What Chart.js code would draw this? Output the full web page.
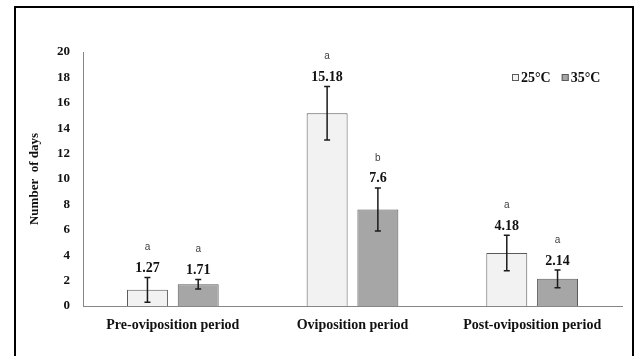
<!DOCTYPE html>
<html>
<head>
<meta charset="utf-8">
<script src="https://cdn.jsdelivr.net/npm/chart.js@4/dist/chart.umd.min.js"></script>
<style>
  html, body { margin: 0; padding: 0; background: #fff; }
  #wrap { width: 635px; height: 356px; position: relative; }
</style>
</head>
<body>
<div id="wrap"><canvas id="c" width="635" height="356"></canvas></div>
<script>
// Duration of the reproductive periods at two temperatures
const categories = ['Pre-oviposition period', 'Oviposition period', 'Post-oviposition period'];
const seriesNames = ['25°C', '35°C'];
const days25 = [1.27, 15.18, 4.18];
const days35 = [1.71, 7.6, 2.14];
const err25 = [0.98, 2.1, 1.4];
const err35 = [0.38, 1.7, 0.7];
const letters25 = ['a', 'a', 'a'];
const letters35 = ['a', 'b', 'a'];
const yTicks = [0, 2, 4, 6, 8, 10, 12, 14, 16, 18, 20];

const serif = "'Liberation Serif', 'Times New Roman', serif";
const sans = "'Liberation Sans', Arial, sans-serif";

const errors = [err25, err35];
const letters = [letters25, letters35];

// Error bars, value labels and significance letters above each bar
const annotate = {
  id: 'annotate',
  afterDatasetsDraw(chart) {
    const ctx = chart.ctx;
    const y = chart.scales.y;
    chart.data.datasets.forEach((ds, di) => {
      const meta = chart.getDatasetMeta(di);
      meta.data.forEach((bar, i) => {
        const v = ds.data[i];
        const e = errors[di][i];
        const x = bar.x;
        const yTop = y.getPixelForValue(v + e);
        const yBot = y.getPixelForValue(v - e);
        ctx.save();
        ctx.strokeStyle = '#1a1a1a';
        ctx.lineWidth = 1.5;
        ctx.beginPath();
        ctx.moveTo(x, yTop); ctx.lineTo(x, yBot);
        ctx.moveTo(x - 3, yTop); ctx.lineTo(x + 3, yTop);
        ctx.moveTo(x - 3, yBot); ctx.lineTo(x + 3, yBot);
        ctx.stroke();
        ctx.fillStyle = '#111';
        ctx.font = 'bold 14px ' + serif;
        ctx.textAlign = 'center';
        ctx.textBaseline = 'middle';
        const labelY = yTop - 9;
        ctx.fillText(String(v), x, labelY);
        ctx.fillStyle = '#404040';
        ctx.font = '10px ' + sans;
        ctx.fillText(letters[di][i], x, labelY - 21);
        ctx.restore();
      });
    });
  }
};

// Legend inside the plot area plus the outer frame
const frame = {
  id: 'frame',
  afterDraw(chart) {
    const ctx = chart.ctx;
    ctx.save();
    ctx.strokeStyle = '#000';
    ctx.lineWidth = 2;
    ctx.strokeRect(15, 7, 618, 360);
    ctx.font = 'bold 14px ' + serif;
    ctx.textBaseline = 'middle';
    ctx.textAlign = 'left';
    const ly = 78;
    let lx = 512;
    chart.data.datasets.forEach((ds) => {
      ctx.fillStyle = ds.backgroundColor;
      ctx.strokeStyle = '#595959';
      ctx.lineWidth = 1;
      ctx.fillRect(lx, ly - 4, 7, 7);
      ctx.strokeRect(lx + 0.5, ly - 3.5, 6, 6);
      ctx.fillStyle = '#111';
      ctx.fillText(ds.label, lx + 9, ly);
      lx += ctx.measureText(ds.label).width + 20;
    });
    ctx.restore();
  }
};

new Chart(document.getElementById('c'), {
  type: 'bar',
  data: {
    labels: categories,
    datasets: [
      { label: seriesNames[0], data: days25, backgroundColor: '#f2f2f2', borderColor: '#595959', borderWidth: 1 },
      { label: seriesNames[1], data: days35, backgroundColor: '#a6a6a6', borderColor: '#595959', borderWidth: 1 }
    ]
  },
  options: {
    responsive: false,
    animation: false,
    devicePixelRatio: 1,
    layout: { padding: { left: 15, top: 52, right: 13, bottom: 0 } },
    datasets: { bar: { categoryPercentage: 0.565, barPercentage: 0.807 } },
    plugins: { legend: { display: false }, tooltip: { enabled: false } },
    scales: {
      x: {
        grid: { display: false, drawTicks: false },
        border: { color: '#868686', width: 1 },
        ticks: { color: '#111', font: { family: serif, size: 14, weight: 'bold' }, padding: 11, maxRotation: 0 },
        afterFit(s) { s.height = 50; }
      },
      y: {
        min: 0, max: 20,
        afterBuildTicks(s) { s.ticks = yTicks.map(v => ({ value: v })); },
        grid: { display: false, drawTicks: false },
        border: { color: '#868686', width: 1 },
        ticks: { color: '#111', font: { family: serif, size: 13, weight: 'bold' }, padding: 13 },
        title: { display: true, text: 'Number  of days', color: '#111', font: { family: serif, size: 13, weight: 'bold' }, padding: { top: 12, bottom: 0 } },
        afterFit(s) { s.width = 68; }
      }
    }
  },
  plugins: [annotate, frame]
});
</script>
</body>
</html>
